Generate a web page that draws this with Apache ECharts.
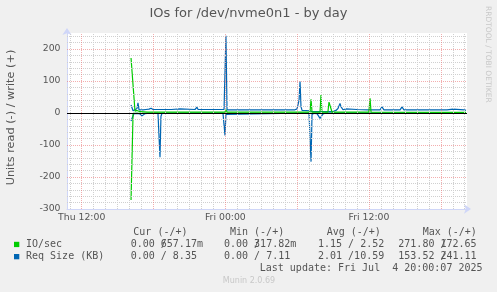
<!DOCTYPE html>
<html><head><meta charset="utf-8">
<script src="https://cdn.jsdelivr.net/npm/echarts@6/dist/echarts.min.js"></script>
<style>html,body{margin:0;padding:0;background:#F0F0F0}#c{width:497px;height:292px}</style>
</head><body><div id="c"></div><script>
// ---- axis / tick data (hours since Thu 00:00) ----
const xMinHour = 10.77, xMaxHour = 44.19;
const xTickHours = [12, 24, 36];
const xTickLabels = ['Thu 12:00', 'Fri 00:00', 'Fri 12:00'];
const yMin = -300, yMax = 250;

// ---- IO/sec (green) ----
const ioWriteTime = [16.12, 16.45, 16.62, 16.70, 16.87, 17.50, 23.97, 24.05, 24.14, 31.07, 31.16, 31.24, 31.91, 31.99, 32.07, 32.57, 32.66, 32.82, 32.91, 35.99, 36.09, 36.17, 44.11];
const ioWrite     = [172, 6, 8, 5, 4, 3, 3, 10, 3, 3, 43, 3, 3, 56, 3, 3, 34, 34, 3, 3, 46, 3, 2];
const ioReadTime  = [16.12, 16.29, 44.11];
const ioRead      = [-272, -1, -1];

// ---- Req Size (KB) (blue) ----
const reqWriteTime = [16.12, 16.20, 16.29, 16.45, 16.62, 16.70, 16.79, 16.95, 17.12, 17.37, 17.62, 17.79, 17.96, 19.50, 20.21, 20.30, 21.46, 21.55, 21.63, 21.72, 22.60, 22.72, 22.80, 23.89, 23.97, 24.05, 24.14, 25.20, 26.50, 29.82, 29.99, 30.16, 30.24, 30.32, 30.41, 31.07, 31.24, 32.90, 33.24, 33.41, 33.58, 33.66, 33.83, 34.08, 34.20, 35.00, 35.90, 36.92, 37.09, 37.25, 38.00, 38.09, 38.20, 38.60, 38.76, 38.92, 39.93, 40.01, 40.10, 40.94, 41.02, 41.10, 42.52, 42.60, 43.02, 43.10, 43.95, 44.03, 44.11];
const reqWrite     = [25, 20, 7, 6, 14, 32, 10, 8, 10, 11, 12, 15, 11, 11, 13, 11, 11, 14, 18, 11, 11, 13, 11, 11, 12, 241, 10, 10, 10, 10, 13, 40, 98, 20, 8, 7, 4, 4, 8, 14, 30, 20, 10, 13, 10, 11, 10, 10, 19, 10, 10, 13, 10, 10, 19, 10, 10, 13, 10, 10, 13, 10, 10, 12, 12, 10, 10, 12, 8];
const reqReadTime  = [16.12, 16.20, 16.37, 16.62, 16.87, 17.04, 17.12, 17.20, 17.29, 17.37, 17.46, 18.37, 18.46, 18.54, 18.62, 18.71, 23.80, 23.89, 23.97, 24.05, 24.14, 30.99, 31.07, 31.16, 31.24, 31.41, 31.66, 31.91, 32.16, 32.40, 44.11];
const reqRead      = [-25, -17, -2, -1, -3, -9, -3, -7, -2, -7, -1, -1, -3, -138, -10, -1, 0, -3, -70, -4, 0, 0, -3, -152, -5, -1, -2, -17, -3, 0, 0];

// ---- legend table ----
const legendNames = ['IO/sec', 'Req Size (KB)'];
const legendColors = ['#00CC00', '#0066B3'];
const colHeaders = ['Cur (-/+)', 'Min (-/+)', 'Avg (-/+)', 'Max (-/+)'];
const cellsRow1 = [['0.00 /', '657.17m'], ['0.00 /', '317.82m'], ['1.15 / 2.52', ''], ['271.80 /', '172.65']];
const cellsRow2 = [['0.00 / 8.35', ''], ['0.00 / 7.11', ''], ['2.01 /10.59', ''], ['153.52 /', '241.11']];
const lastUpdate = 'Last update: Fri Jul  4 20:00:07 2025';

const pairs = (t, v) => t.map((x, i) => [x, v[i]]);

// grid line positions
const hourLinesMinor = [], hourLinesMajor = [];
for (let h = 11; h <= 44; h++) (h % 6 === 0 ? hourLinesMajor : hourLinesMinor).push(h);
const yLinesMinor = [], yLinesMajor = [];
for (let v = -280; v <= 240; v += 20) (v % 100 === 0 ? yLinesMajor : yLinesMinor).push(v);

const minorStyle = {color: '#d0d0d0', width: 1, type: [1, 1]};
const majorStyle = {color: 'rgba(235,120,120,0.6)', width: 1, type: [1, 1]};
const gridMarks = [].concat(
  hourLinesMinor.map(h => ({xAxis: h, lineStyle: minorStyle})),
  yLinesMinor.map(v => ({yAxis: v, lineStyle: minorStyle})),
  hourLinesMajor.map(h => ({xAxis: h, lineStyle: majorStyle})),
  yLinesMajor.map(v => ({yAxis: v, lineStyle: majorStyle}))
);

const mono = '10px "DejaVu Sans Mono"';
const sans = '"DejaVu Sans"';
const charW = 6.02;
const colX = [130.7, 224, 318, 398.3];
const headX = [133.3, 230, 326.7, 422.7];
const rowY = [244.5, 256.7];
const g = [];
g.push({type: 'text', x: 248.5, y: 14, style: {text: 'IOs for /dev/nvme0n1 - by day', font: '13px ' + sans, fill: '#555', align: 'center', verticalAlign: 'middle'}});
g.push({type: 'text', x: 11, y: 117.5, rotation: Math.PI / 2, style: {text: 'Units read (-) / write (+)', font: '11.3px ' + sans, fill: '#555', align: 'center', verticalAlign: 'middle'}});
g.push({type: 'text', x: 488, y: 6, rotation: -Math.PI / 2, style: {text: 'RRDTOOL / TOBI OETIKER', font: '7.5px ' + sans, fill: '#c8c8c8', align: 'left', verticalAlign: 'middle'}});
g.push({type: 'text', x: 249, y: 281, style: {text: 'Munin 2.0.69', font: '8px ' + sans, fill: '#c8c8c8', align: 'center', verticalAlign: 'middle'}});
colHeaders.forEach((t, i) => g.push({type: 'text', x: headX[i], y: 232.7, style: {text: t, font: mono, fill: '#555', align: 'left', verticalAlign: 'middle'}}));
[cellsRow1, cellsRow2].forEach((row, r) => {
  g.push({type: 'rect', shape: {x: 14, y: rowY[r] - 2.7, width: 5.3, height: 5.3}, style: {fill: legendColors[r]}});
  g.push({type: 'text', x: 26, y: rowY[r], style: {text: legendNames[r], font: mono, fill: '#555', align: 'left', verticalAlign: 'middle'}});
  row.forEach((cell, i) => {
    g.push({type: 'text', x: colX[i], y: rowY[r], style: {text: cell[0], font: mono, fill: '#555', align: 'left', verticalAlign: 'middle'}});
    if (cell[1]) g.push({type: 'text', x: colX[i] + (cell[0].length - 1) * charW, y: rowY[r], style: {text: cell[1], font: mono, fill: '#555', align: 'left', verticalAlign: 'middle'}});
  });
});
g.push({type: 'text', x: 482.5, y: 268.7, style: {text: lastUpdate, font: mono, fill: '#555', align: 'right', verticalAlign: 'middle'}});

const chart = echarts.init(document.getElementById('c'), null, {renderer: 'canvas'});
chart.setOption({
  animation: false,
  backgroundColor: '#F0F0F0',
  grid: {left: 67, right: 30, top: 33, bottom: 83, show: true, backgroundColor: '#fff', borderWidth: 0},
  xAxis: {
    type: 'value', min: xMinHour, max: xMaxHour,
    axisLine: {onZero: false, lineStyle: {color: '#CFD6F8', width: 1}, symbol: ['none', 'arrow'], symbolSize: [7, 7], symbolOffset: [0, 4]},
    axisTick: {show: false}, splitLine: {show: false},
    axisLabel: {customValues: xTickHours, formatter: v => xTickLabels[xTickHours.indexOf(Math.round(v))] || '', color: '#555', fontSize: 9.3, fontFamily: 'DejaVu Sans', margin: 4}
  },
  yAxis: {
    type: 'value', min: yMin, max: yMax, interval: 100,
    axisLine: {show: true, lineStyle: {color: '#CFD6F8', width: 1}, symbol: ['none', 'arrow'], symbolSize: [7, 7], symbolOffset: [0, 5]},
    axisTick: {show: false}, splitLine: {show: false},
    axisLabel: {showMaxLabel: false, color: '#555', fontSize: 9.3, fontFamily: 'DejaVu Sans', margin: 6.5}
  },
  graphic: g,
  series: [
    {type: 'line', data: [], z: 1, silent: true, markLine: {silent: true, symbol: ['none', 'none'], label: {show: false}, animation: false, data: gridMarks}},
    {type: 'line', data: pairs(reqWriteTime, reqWrite), showSymbol: false, lineStyle: {color: '#0066B3', width: 1.2}, z: 3},
    {type: 'line', data: pairs(reqReadTime, reqRead), showSymbol: false, lineStyle: {color: '#0066B3', width: 1.2}, z: 3},
    {type: 'line', data: pairs(ioWriteTime, ioWrite), showSymbol: false, lineStyle: {color: '#00CC00', width: 1.2}, z: 4},
    {type: 'line', data: pairs(ioReadTime, ioRead), showSymbol: false, lineStyle: {color: '#00CC00', width: 1.2}, z: 4,
     markLine: {silent: true, symbol: ['none', 'none'], label: {show: false}, animation: false, data: [{yAxis: 0, lineStyle: {color: '#000', width: 1, type: 'solid'}}]}}
  ]
});
</script></body></html>
